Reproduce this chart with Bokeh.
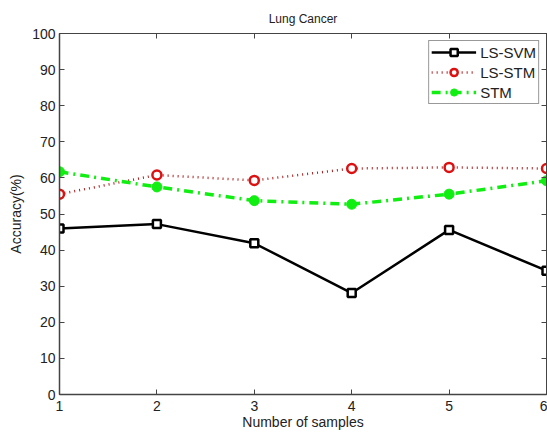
from bokeh.plotting import figure
from bokeh.models import LinearAxis, Range1d, Legend, LegendItem, FixedTicker
from bokeh.embed import file_html
from bokeh.resources import INLINE

samples = [1, 2, 3, 4, 5, 6]
ls_svm = [46.0, 47.2, 41.9, 28.1, 45.6, 34.3]
ls_stm = [55.5, 60.8, 59.3, 62.6, 62.9, 62.6]
stm = [61.7, 57.5, 53.7, 52.7, 55.5, 59.2]
x_ticks = [1, 2, 3, 4, 5, 6]
y_ticks = [0, 10, 20, 30, 40, 50, 60, 70, 80, 90, 100]

FONT = "Liberation Sans"
AX = "#444444"

p = figure(width=547, height=432, output_backend="svg", toolbar_location=None,
           x_range=Range1d(1, 6), y_range=Range1d(0, 100),
           title="Lung Cancer", x_axis_label="Number of samples", y_axis_label="Accuracy(%)")
p.min_border_left = 59
p.min_border_right = 1
p.min_border_top = 33
p.min_border_bottom = 37
p.title.align = "center"
p.title.text_font = FONT
p.title.text_font_size = "12px"
p.title.text_font_style = "normal"
p.title.text_color = "#222222"
p.title.standoff = 16
p.xgrid.visible = False
p.ygrid.visible = False
p.outline_line_color = AX
p.background_fill_color = "white"
p.border_fill_color = "white"

for ax in (p.xaxis[0], p.yaxis[0]):
    ax.major_tick_in = 5
    ax.major_tick_out = 0
    ax.minor_tick_line_color = None
    ax.axis_line_color = AX
    ax.axis_line_width = 1.5
    ax.major_tick_line_color = AX
    ax.major_label_text_font = FONT
    ax.major_label_text_font_size = "14px"
    ax.major_label_text_color = "#222222"
    ax.axis_label_text_font = FONT
    ax.axis_label_text_font_size = "14px"
    ax.axis_label_text_font_style = "normal"
    ax.axis_label_text_color = "#222222"
p.xaxis[0].ticker = FixedTicker(ticks=x_ticks)
p.yaxis[0].ticker = FixedTicker(ticks=y_ticks)
p.xaxis[0].major_label_standoff = 6
p.xaxis[0].axis_label_standoff = 0
p.yaxis[0].major_label_standoff = 4
p.yaxis[0].axis_label_standoff = 5

top = LinearAxis(ticker=FixedTicker(ticks=x_ticks),
                 major_label_overrides={t: "" for t in x_ticks},
                 major_label_standoff=0, major_tick_in=5, major_tick_out=0,
                 minor_tick_line_color=None, axis_line_color=AX,
                 major_tick_line_color=AX)
p.add_layout(top, "above")
right = LinearAxis(ticker=FixedTicker(ticks=y_ticks),
                   major_label_overrides={t: "" for t in y_ticks},
                   major_label_standoff=0, major_tick_in=5, major_tick_out=0,
                   minor_tick_line_color=None, axis_line_color=AX,
                   major_tick_line_color=AX)
p.add_layout(right, "right")

r1 = p.line(samples, ls_svm, line_color="black", line_width=2.5)
m1 = p.scatter(samples, ls_svm, marker="square", size=8, line_color="black",
               fill_color="white", line_width=2.5)
r2 = p.line(samples, ls_stm, line_color="#b02020", line_width=2.5, line_dash="1 4")
m2 = p.scatter(samples, ls_stm, marker="circle", size=9, line_color="#dd1111",
               fill_color="white", line_width=2.5)
r3 = p.line(samples, stm, line_color="#11ee11", line_width=3.5, line_dash="9 5 2 5")
m3 = p.scatter(samples, stm, marker="circle", size=10, line_color="#11ee11",
               fill_color="#11ee11", line_width=1)

legend = Legend(items=[LegendItem(label="LS-SVM", renderers=[r1, m1]),
                       LegendItem(label="LS-STM", renderers=[r2, m2]),
                       LegendItem(label="STM", renderers=[r3, m3])],
                location="top_right", label_text_font=FONT, label_text_font_size="15px",
                label_text_color="#222222", label_text_line_height=1.0,
                border_line_color="#333333", border_line_width=1.2, glyph_width=45,
                glyph_height=18, label_height=18,
                spacing=2, padding=2, margin=7, label_standoff=4,
                background_fill_alpha=1.0)
p.add_layout(legend)

open("out.html", "w").write(file_html(p, INLINE))
